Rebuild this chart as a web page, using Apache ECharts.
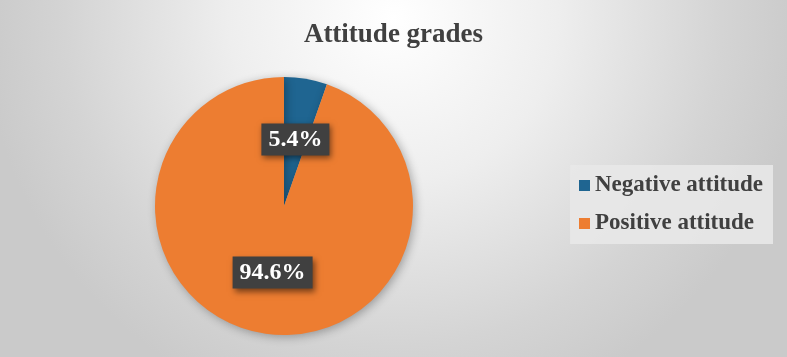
<!DOCTYPE html>
<html><head><meta charset="utf-8">
<script src="https://cdn.jsdelivr.net/npm/echarts@6/dist/echarts.min.js"></script>
<style>html,body{margin:0;padding:0;}#c{width:787px;height:357px;}</style>
</head><body><div id="c"></div>
<script>
const categories = ['Negative attitude', 'Positive attitude'];
const values = [5.4, 94.6];
const colors = ['#1f6591', '#ed7d31'];
const titleText = 'Attitude grades';

const chart = echarts.init(document.getElementById('c'));
const serif = "'Liberation Serif', 'Times New Roman', serif";
chart.setOption({
  animation: false,
  backgroundColor: {
    type: 'radial', x: 0.5, y: 0.05, r: 1.15,
    colorStops: [{offset: 0, color: '#ffffff'}, {offset: 0.4, color: '#eeeeee'}, {offset: 0.8, color: '#d4d4d4'}, {offset: 1, color: '#cacaca'}]
  },
  title: {
    text: titleText, left: 'center', top: 17,
    textStyle: {fontFamily: serif, fontWeight: 'bold', fontSize: 27, color: '#404040'}
  },
  legend: {
    orient: 'vertical', right: 14, top: 165,
    backgroundColor: 'rgba(232,232,232,0.9)',
    padding: [9, 10, 9, 9],
    itemWidth: 11, itemHeight: 11, itemGap: 15, icon: 'rect',
    textStyle: {fontFamily: serif, fontWeight: 'bold', fontSize: 23, color: '#404040'},
    data: categories
  },
  series: [{
    type: 'pie',
    center: [284, 206], radius: 129,
    startAngle: 90, clockwise: true,
    itemStyle: {shadowBlur: 10, shadowColor: 'rgba(0,0,0,0.3)', shadowOffsetX: 2, shadowOffsetY: 2},
    label: {
      position: 'inside',
      formatter: p => p.value.toFixed(1) + '%',
      fontFamily: serif, fontWeight: 'bold', fontSize: 24, color: '#ffffff',
      backgroundColor: '#404040', padding: [5, 7, 3, 7],
      shadowBlur: 6, shadowColor: 'rgba(0,0,0,0.5)', shadowOffsetX: 2, shadowOffsetY: 3
    },
    labelLine: {show: false},
    emphasis: {disabled: true},
    data: categories.map((c, i) => ({name: c, value: values[i], itemStyle: {color: colors[i]}}))
  }]
});
</script></body></html>
